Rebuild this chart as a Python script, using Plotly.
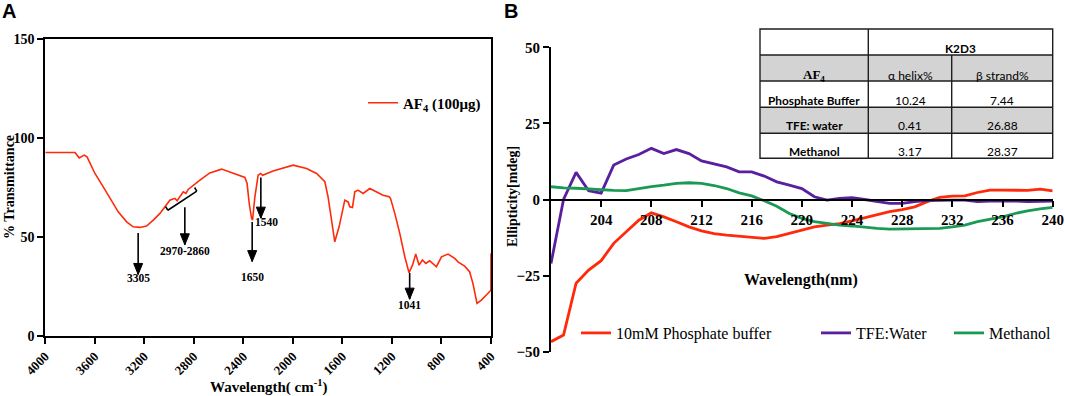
import plotly.graph_objects as go

W, H = 1065, 396

def fx(p):
    return p / W

def fy(p):
    return 1 - p / H

SERIF = "Liberation Serif"
SANS = "Liberation Sans"
TSANS = "Lato"

# ---------------- Panel A data (FTIR) ----------------
ir_wavenumber = [4000, 3760, 3726, 3685, 3663, 3639, 3599, 3532, 3478, 3411, 3343, 3290,
                 3236, 3182, 3128, 3074, 2994, 2953, 2935, 2913, 2886, 2864, 2846, 2751,
                 2671, 2576, 2483, 2388, 2370, 2353, 2334, 2326, 2307, 2281, 2261, 2245,
                 2160, 1998, 1890, 1809, 1742, 1716, 1688, 1662, 1627, 1581, 1554, 1541,
                 1519, 1500, 1474, 1433, 1379, 1339, 1272, 1223, 1212, 1177, 1137, 1096,
                 1062, 1034, 1008, 981, 954, 927, 895, 841, 800, 747, 693, 667, 613, 573,
                 546, 513, 478, 438, 411, 401, 400]
ir_transmittance = [92.7, 92.7, 90.0, 91.4, 90.5, 87.2, 82.1, 75.3, 69.5, 62.7, 57.6, 55.1,
                    54.8, 55.5, 58.5, 61.9, 68.6, 69.5, 68.3, 70.3, 72.8, 72.0, 74.0, 78.7,
                    82.4, 84.3, 82.1, 80.1, 77.0, 66.9, 59.4, 58.5, 70.3, 81.2, 82.1, 81.2,
                    83.4, 86.3, 84.6, 82.1, 77.9, 70.3, 58.5, 47.5, 55.1, 68.6, 67.7, 65.2,
                    64.9, 72.8, 73.7, 72.0, 74.5, 73.3, 71.1, 70.3, 69.5, 61.9, 51.8, 39.9,
                    31.9, 35.7, 41.3, 35.7, 38.3, 36.6, 37.9, 34.9, 39.9, 41.3, 39.1, 37.4,
                    35.2, 32.4, 26.5, 16.4, 18.0, 20.6, 22.2, 23.0, 41.7]
ir_series_name = "<b>AF<sub>4</sub> (100μg)</b>"
ir_xticks = [4000, 3600, 3200, 2800, 2400, 2000, 1600, 1200, 800, 400]
ir_yticks = [0, 50, 100, 150]

# ---------------- Panel B data (CD) ----------------
cd_wavelength = list(range(200, 241))
cd_phosphate = [-46.7, -44.5, -27.5, -23.2, -20.1, -14.4, -10.6, -6.8, -4.4, -5.7, -7.3,
                -9.0, -10.3, -11.2, -11.7, -12.0, -12.3, -12.8, -12.2, -11.1, -10.1, -9.0,
                -8.4, -7.9, -7.0, -6.0, -5.1, -4.0, -3.3, -2.4, -0.7, 0.7, 1.1, 1.2, 2.3,
                3.1, 3.1, 3.1, 3.0, 3.4, 2.8]
cd_tfe_water = [-21.0, 0.0, 8.9, 2.9, 2.1, 11.3, 13.3, 14.8, 16.8, 15.1, 16.4, 15.1, 12.7,
                11.6, 10.7, 9.1, 9.1, 7.7, 5.8, 4.7, 3.6, 0.9, -0.2, 0.4, 0.6, 0.0, -0.7,
                -1.3, -1.3, -0.7, -0.4, -0.2, -0.2, -0.2, -0.7, -0.5, -0.4, -0.5, -0.7,
                -0.7, -0.5]
cd_methanol = [4.2, 3.8, 3.7, 3.4, 3.2, 3.0, 2.9, 3.6, 4.2, 4.7, 5.3, 5.5, 5.3, 4.6, 3.6,
               2.2, 1.2, -0.4, -2.2, -4.6, -6.2, -7.3, -7.9, -8.4, -8.7, -9.2, -9.5, -9.7,
               -9.7, -9.7, -9.7, -9.5, -9.0, -8.4, -7.3, -6.6, -5.7, -4.6, -3.7, -3.1, -2.6]
cd_names = ["10mM Phosphate buffer", "TFE:Water", "Methanol"]
cd_colors = ["#ff2a0a", "#5a1f9e", "#1a9a55"]
cd_xticks = [204, 208, 212, 216, 220, 224, 228, 232, 236, 240]
cd_yticks = [-50, -25, 0, 25, 50]

# ---------------- Table data ----------------
table_header = "K2D3"
table_corner = "<b>AF<sub>4</sub></b>"
table_columns = ["α helix%", "β strand%"]
table_conditions = ["Phosphate Buffer", "TFE: water", "Methanol"]
table_alpha = ["10.24", "0.41", "3.17"]
table_beta = ["7.44", "26.88", "28.37"]

fig = go.Figure()

fig.add_trace(go.Scatter(
    x=ir_wavenumber, y=ir_transmittance, mode="lines", name=ir_series_name,
    line=dict(color="#ff2a0a", width=1.6), xaxis="x", yaxis="y", legend="legend"))

legend_ids = ["legend2", "legend3", "legend4"]
for series, name, color, lg in zip([cd_phosphate, cd_tfe_water, cd_methanol],
                                   cd_names, cd_colors, legend_ids):
    fig.add_trace(go.Scatter(
        x=cd_wavelength, y=series, mode="lines", name=name,
        line=dict(color=color, width=2.8), xaxis="x2", yaxis="y2", legend=lg))

axis_common = dict(showgrid=False, zeroline=False, showline=True, linecolor="black",
                   linewidth=2, ticks="outside", ticklen=6, tickwidth=2, tickcolor="black",
                   automargin=False)

yB_dom = [fy(351.7), fy(47.3)]
yB_range = [-50, 50]
xB_pos = yB_dom[0] + (0 - yB_range[0]) / (yB_range[1] - yB_range[0]) * (yB_dom[1] - yB_dom[0])

leg_common = dict(xanchor="left", yanchor="middle", bgcolor="rgba(0,0,0,0)",
                  borderwidth=0, itemwidth=30)

fig.update_layout(
    width=W, height=H, autosize=False,
    margin=dict(l=0, r=0, t=0, b=0, pad=0, autoexpand=False),
    paper_bgcolor="white", plot_bgcolor="white",
    xaxis=dict(domain=[fx(45.3), fx(491)], range=[4000, 400], tickmode="array",
               tickvals=ir_xticks, tickangle=-45, mirror=True, anchor="y",
               tickfont=dict(family=SERIF, size=13, color="black", weight="bold"),
               **axis_common),
    yaxis=dict(domain=[fy(335.7), fy(39.3)], range=[0, 150], tickmode="array",
               tickvals=ir_yticks, mirror=True, anchor="x",
               tickfont=dict(family=SERIF, size=14, color="black", weight="bold"),
               **axis_common),
    xaxis2=dict(domain=[fx(551), fx(1052.7)], range=[200, 240], tickmode="array",
                tickvals=cd_xticks, anchor="free", position=xB_pos,
                tickfont=dict(family=SERIF, size=15, color="black", weight="bold"),
                **axis_common),
    yaxis2=dict(domain=yB_dom, range=yB_range, tickmode="array", tickvals=cd_yticks,
                anchor="x2",
                tickfont=dict(family=SERIF, size=15, color="black", weight="bold"),
                **axis_common),
    showlegend=True,
    legend=dict(x=fx(363), y=fy(103), font=dict(family=SERIF, size=15, color="black"),
                **leg_common),
    legend2=dict(x=fx(576), y=fy(333), font=dict(family=SERIF, size=16, color="black"),
                 **leg_common),
    legend3=dict(x=fx(816), y=fy(333), font=dict(family=SERIF, size=16, color="black"),
                 **leg_common),
    legend4=dict(x=fx(949), y=fy(333), font=dict(family=SERIF, size=16, color="black"),
                 **leg_common),
)

def pann(text, x, y, font, angle=0):
    return dict(text=text, x=fx(x), y=fy(y), xref="paper", yref="paper",
                xanchor="center", yanchor="middle", showarrow=False, textangle=angle,
                font=font)

ann = []
ann.append(pann("<b>A</b>", 9, 11, dict(family=SANS, size=20, color="black")))
ann.append(pann("<b>B</b>", 511, 11, dict(family=SANS, size=20, color="black")))
ann.append(pann("<b>% Transmittance</b>", 9, 187,
                dict(family=SERIF, size=14, color="black"), -90))
ann.append(pann("<b>Wavelength( cm<sup>-1</sup>)</b>", 268, 386,
                dict(family=SERIF, size=15, color="black")))
ann.append(pann("<b>Ellipticity[mdeg]</b>", 513, 197,
                dict(family=SERIF, size=14, color="black"), -90))
ann.append(pann("<b>Wavelength(nm)</b>", 801, 280,
                dict(family=SERIF, size=16, color="black")))

# peak labels (panel A data coordinates)
peak_font = dict(family=SERIF, size=11.5, color="black")
labels = [("3305", 3250, 29.0), ("2970-2860", 2873, 42.8), ("1650", 2329, 29.7),
          ("1540", 2215, 57.6), ("1041", 1057, 15.5)]
for t, xa, ya in labels:
    ann.append(dict(x=xa, y=ya, xref="x", yref="y", text="<b>%s</b>" % t, showarrow=False,
                    xanchor="center", yanchor="middle", font=peak_font))

# table text
col_x = [814, 910, 1002]
row_y = [48.3, 75, 100, 126, 151.7]
tfont_b = dict(family=TSANS, size=11.8, color="black", weight="bold")
tfont = dict(family=TSANS, size=12, color="black")
ann.append(pann("<b>%s</b>" % table_header, 960, row_y[0], tfont_b))
ann.append(pann(table_corner, col_x[0], row_y[1], dict(family=SERIF, size=13, color="black")))
for c, t in enumerate(table_columns):
    ann.append(pann(t, col_x[c + 1], row_y[1], tfont))
for r, (cond, a, b) in enumerate(zip(table_conditions, table_alpha, table_beta)):
    ann.append(pann("<b>%s</b>" % cond, col_x[0], row_y[r + 2], tfont_b))
    ann.append(pann(a, col_x[1], row_y[r + 2], tfont))
    ann.append(pann(b, col_x[2], row_y[r + 2], tfont))
fig.update_layout(annotations=ann)

shapes = []
blk = dict(color="black", width=1.6)
# peak arrows: shaft + filled head (head tip at data point)
arrows = [  # (x, tail_y, head_y)
    (3250, 52.0, 31.0),
    (2873, 65.0, 46.0),
    (2329, 57.6, 37.5),
    (2259, 80.0, 59.5),
    (1057, 31.7, 18.5),
]
for xa, ty0, hy in arrows:
    shapes.append(dict(type="line", xref="x", yref="y", x0=xa, x1=xa, y0=ty0, y1=hy,
                       line=blk))
    shapes.append(dict(type="path", xref="x", yref="y", xsizemode="pixel",
                       ysizemode="pixel", xanchor=xa, yanchor=hy,
                       path="M-4.5,11 L4.5,11 L0,0 Z", fillcolor="black",
                       line=dict(color="black", width=1)))
# bracket over 2970-2860 region
shapes.append(dict(type="line", xref="x", yref="y", x0=3010, y0=63.5, x1=2776, y1=73.2,
                   line=blk))
shapes.append(dict(type="line", xref="x", yref="y", x0=3010, y0=63.5, x1=3028, y1=65.3,
                   line=blk))
shapes.append(dict(type="line", xref="x", yref="y", x0=2776, y0=73.2, x1=2794, y1=75.0,
                   line=blk))
# table geometry
tx = [760, 868.3, 951.7, 1052.7]
ty = [29, 55, 81, 107.3, 133.3, 158.3]
for r in (1, 3):
    shapes.append(dict(type="rect", xref="paper", yref="paper", x0=fx(tx[0]), x1=fx(tx[3]),
                       y0=fy(ty[r + 1]), y1=fy(ty[r]), fillcolor="#d3d3d3",
                       line=dict(width=0), layer="below"))
bl = dict(color="#1e1e1e", width=1.4)
shapes.append(dict(type="rect", xref="paper", yref="paper", x0=fx(tx[0]), x1=fx(tx[3]),
                   y0=fy(ty[5]), y1=fy(ty[0]), line=bl))
for yv in ty[1:5]:
    shapes.append(dict(type="line", xref="paper", yref="paper", x0=fx(tx[0]), x1=fx(tx[3]),
                       y0=fy(yv), y1=fy(yv), line=bl))
shapes.append(dict(type="line", xref="paper", yref="paper", x0=fx(tx[1]), x1=fx(tx[1]),
                   y0=fy(ty[0]), y1=fy(ty[5]), line=bl))
shapes.append(dict(type="line", xref="paper", yref="paper", x0=fx(tx[2]), x1=fx(tx[2]),
                   y0=fy(ty[1]), y1=fy(ty[5]), line=bl))
fig.update_layout(shapes=shapes)

# remove the default page margin so the 1065x396 figure fills the window exactly
page_fix = ("document.body.style.margin='0px';document.body.style.padding='0px';"
            "document.body.style.overflow='hidden';")
fig.write_html("out.html", post_script=page_fix, config={"displayModeBar": False})
